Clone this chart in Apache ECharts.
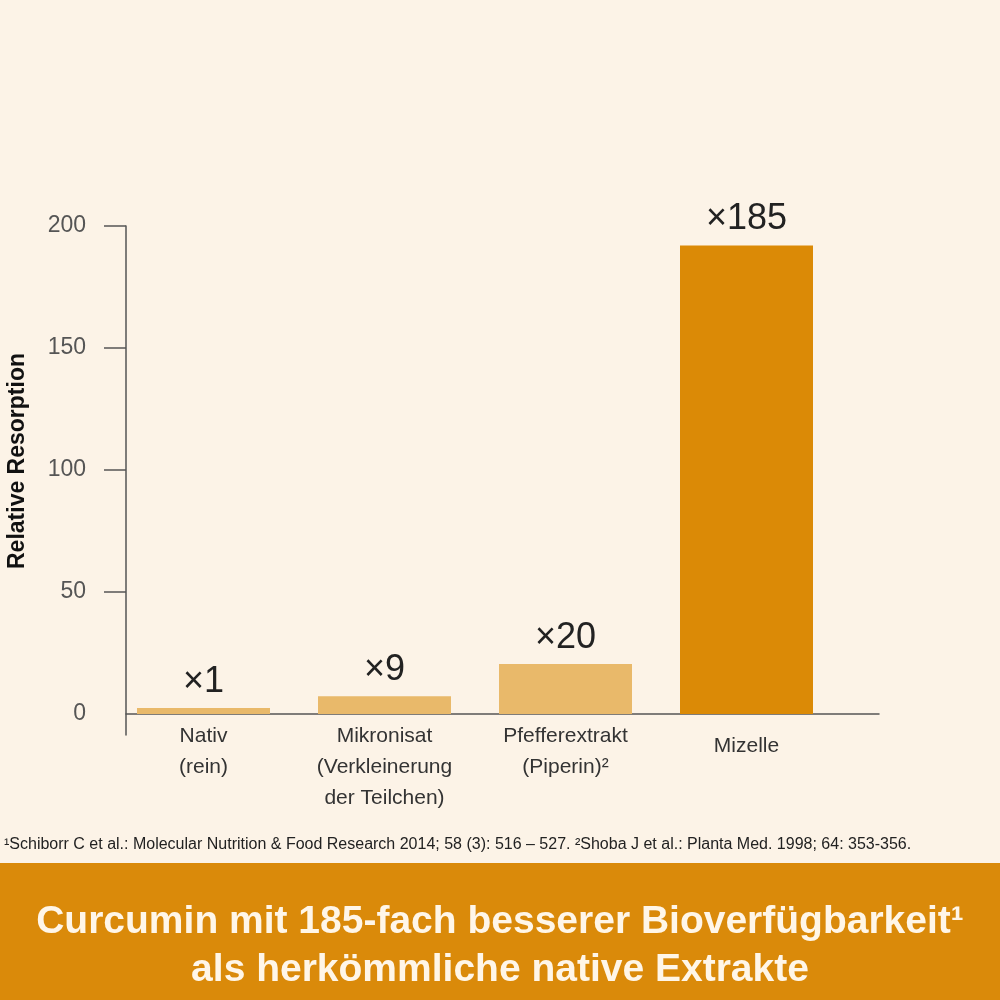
<!DOCTYPE html>
<html>
<head>
<meta charset="utf-8">
<script src="https://cdn.jsdelivr.net/npm/echarts@6/dist/echarts.min.js"></script>
<style>
html,body{margin:0;padding:0;background:#FCF3E7;}
#chart{width:1000px;height:1000px;}
</style>
</head>
<body>
<div id="chart"></div>
<script>
// ---- data ----
const categories = ['Nativ\n(rein)', 'Mikronisat\n(Verkleinerung\nder Teilchen)', 'Pfefferextrakt\n(Piperin)²', 'Mizelle'];
const values = [2.5, 7.3, 20.5, 192];
const valueLabels = ['×1', '×9', '×20', '×185'];
const yTickValues = [50, 100, 150, 200];
const yLabelValues = [0, 50, 100, 150, 200];
const yAxisName = 'Relative Resorption';
const footnote = '¹Schiborr C et al.: Molecular Nutrition & Food Research 2014; 58 (3): 516 – 527. ²Shoba J et al.: Planta Med. 1998; 64: 353-356.';
const bannerLines = ['Curcumin mit 185-fach besserer Bioverfügbarkeit¹', 'als herkömmliche native Extrakte'];

const FONT = '"Liberation Sans", Arial, sans-serif';
const barColors = ['#E9B96A', '#E9B96A', '#E9B96A', '#DB8A06'];
const yMin = -8.6, yMax = 200;

const chart = echarts.init(document.getElementById('chart'), null, {renderer: 'canvas'});
const option = {
  backgroundColor: '#FCF3E7',
  animation: false,
  textStyle: {fontFamily: FONT},
  grid: [
    {left: 126, right: 121, top: 226, height: 509},
    {left: 113, width: 724, top: 226, height: 509}
  ],
  xAxis: [
    {
      gridIndex: 0, type: 'value', min: 0, max: 1,
      axisLine: {show: true, onZero: true, lineStyle: {color: '#555', width: 1.5}},
      axisTick: {show: false}, axisLabel: {show: false}, splitLine: {show: false}
    },
    {
      gridIndex: 1, type: 'category', data: categories,
      axisLine: {show: false, onZero: true}, axisTick: {show: false},
      axisLabel: {
        show: true, interval: 0, margin: -14, fontSize: 21, lineHeight: 31,
        color: '#333', fontFamily: FONT,
        formatter: function (v, i) { return i === 3 ? '{m|' + v + '}' : v; },
        rich: {m: {fontSize: 21, color: '#333', fontFamily: FONT, padding: [20, 0, 0, 0]}}
      },
      splitLine: {show: false}
    }
  ],
  yAxis: [
    {
      gridIndex: 0, type: 'value', min: yMin, max: yMax,
      axisLine: {show: true, lineStyle: {color: '#555', width: 1.5}},
      axisTick: {show: true, length: 22, customValues: yTickValues, lineStyle: {color: '#555', width: 1.5}},
      axisLabel: {show: true, customValues: yLabelValues, margin: 40, fontSize: 23, color: '#555', fontFamily: FONT},
      splitLine: {show: false}
    },
    {
      gridIndex: 1, type: 'value', min: yMin, max: yMax, show: false,
      splitLine: {show: false}
    }
  ],
  series: [{
    type: 'bar', xAxisIndex: 1, yAxisIndex: 1,
    barWidth: 133,
    data: values.map((v, i) => ({value: v, itemStyle: {color: barColors[i]}})),
    label: {
      show: true, position: 'top', distance: 8,
      formatter: p => valueLabels[p.dataIndex],
      fontSize: 36, color: '#222', fontFamily: FONT
    }
  }],
  graphic: [
    {
      type: 'text', x: 18, y: 461, rotation: Math.PI / 2,
      style: {text: yAxisName, font: 'bold 23px ' + FONT, fill: '#111', textAlign: 'center', textVerticalAlign: 'middle'}
    },
    {
      type: 'text', x: 4, y: 845,
      style: {text: footnote, font: '16px ' + FONT, fill: '#222', textAlign: 'left', textVerticalAlign: 'middle'}
    },
    {
      type: 'rect', shape: {x: 0, y: 863, width: 1000, height: 137},
      style: {fill: '#DA8A0A'}
    },
    {
      type: 'text', x: 500, y: 922,
      style: {text: bannerLines[0], font: 'bold 39px ' + FONT, fill: '#FFF6E8', textAlign: 'center', textVerticalAlign: 'middle'}
    },
    {
      type: 'text', x: 500, y: 970,
      style: {text: bannerLines[1], font: 'bold 39px ' + FONT, fill: '#FFF6E8', textAlign: 'center', textVerticalAlign: 'middle'}
    }
  ]
};
chart.setOption(option);
</script>
</body>
</html>
